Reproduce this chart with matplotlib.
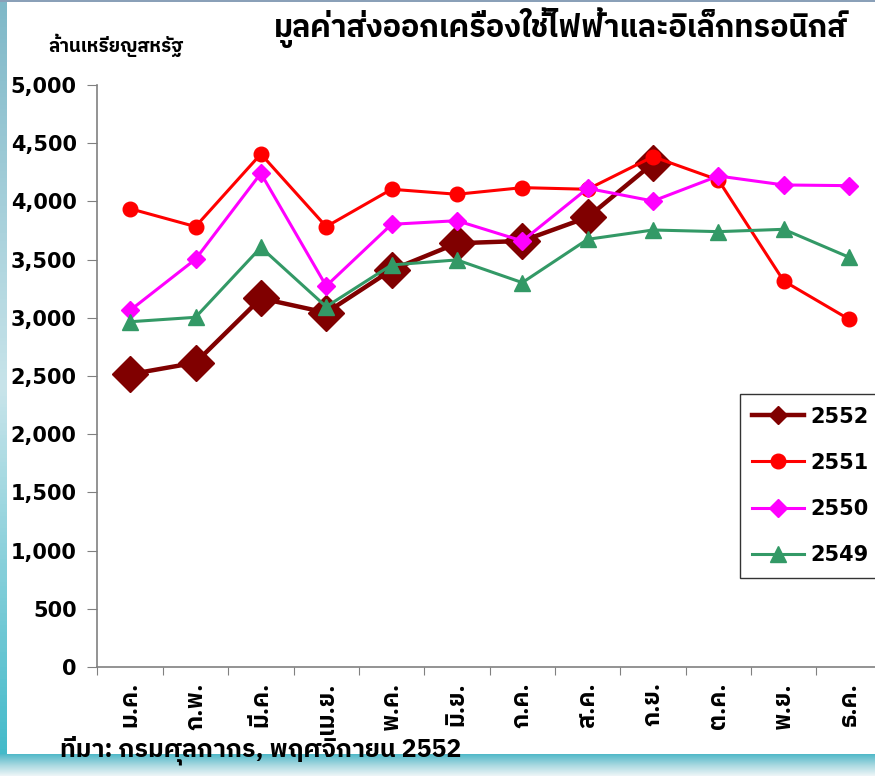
import matplotlib
matplotlib.use("Agg")
import matplotlib.pyplot as plt
from matplotlib import font_manager
from matplotlib.ft2font import FT2Font
from matplotlib.lines import Line2D
import numpy as np

months = ["ม.ค.", "ก.พ.", "มี.ค.", "เม.ย.", "พ.ค.", "มิ.ย.", "ก.ค.", "ส.ค.", "ก.ย.", "ต.ค.", "พ.ย.", "ธ.ค."]
v2552 = [2515, 2614, 3167, 3044, 3411, 3640, 3660, 3863, 4327]
v2551 = [3937, 3783, 4407, 3783, 4104, 4061, 4118, 4104, 4384, 4184, 3316, 2987]
v2550 = [3064, 3503, 4241, 3273, 3803, 3834, 3660, 4112, 4003, 4218, 4141, 4135]
v2549 = [2966, 3004, 3605, 3095, 3454, 3497, 3302, 3674, 3754, 3740, 3760, 3520]
yticks = [0, 500, 1000, 1500, 2000, 2500, 3000, 3500, 4000, 4500, 5000]
labels = ["2552", "2551", "2550", "2549"]

title = "มูลค่าส่งออกเครื่องใช้ไฟฟ้าและอิเล็กทรอนิกส์"
unit = "ล้านเหรียญสหรัฐ"
source = "ที่มา: กรมศุลกากร, พฤศจิกายน 2552"

# find Thai-capable fonts
thai_fams = []
for f in font_manager.fontManager.ttflist:
    try:
        cm = FT2Font(f.fname).get_charmap()
        if 0x0E21 in cm and 0x0E01 in cm:
            thai_fams.append(f.name)
    except Exception:
        pass
names = []
for n in thai_fams:
    if n not in names:
        names.append(n)
pref = [n for n in names if "Sans" in n] + [n for n in names if "Sans" not in n]
fam = pref + ["DejaVu Sans"]
plt.rcParams["font.family"] = fam

fig = plt.figure(figsize=(8.75, 7.76), dpi=100)

# decorative frame
grad = np.linspace(0, 1, 200).reshape(-1, 1)
axl = fig.add_axes([0, 0, 0.008, 1])
axl.imshow(grad, aspect="auto", cmap=matplotlib.colors.LinearSegmentedColormap.from_list("l", ["#7fb8c8", "#c8e4ea", "#3cb8c8"]), extent=[0, 1, 0, 1])
axl.axis("off")
axb = fig.add_axes([0, 0, 1, 0.028])
axb.imshow(grad, aspect="auto", cmap=matplotlib.colors.LinearSegmentedColormap.from_list("b", ["#4fb8c8", "#a8d8e0", "#eef6f8"]), extent=[0, 1, 0, 1])
axb.axis("off")
axt = fig.add_axes([0, 0.997, 1, 0.003])
axt.set_facecolor("#8aa0b8")
axt.set_xticks([]); axt.set_yticks([])
for s in axt.spines.values():
    s.set_visible(False)

ax = fig.add_axes([0.1114, 0.1405, 0.8963, 0.75])
x = np.arange(len(months))
styles = [
    dict(color="#800000", lw=3.2, marker="D", ms=18, lms=9),
    dict(color="#ff0000", lw=2.2, marker="o", ms=10.5, lms=10.5),
    dict(color="#ff00ff", lw=2.2, marker="D", ms=9, lms=9),
    dict(color="#339966", lw=2.2, marker="^", ms=12, lms=12),
]
series = [v2552, v2551, v2550, v2549]
handles = []
for k, (vals, st, lab) in enumerate(zip(series, styles, labels)):
    ax.plot(x[:len(vals)], vals, color=st["color"], lw=st["lw"], marker=st["marker"],
            ms=st["ms"], zorder=3 + k)
    handles.append(Line2D([], [], color=st["color"], lw=st["lw"], marker=st["marker"],
                          ms=st["lms"], label=lab))

ax.set_xlim(-0.5, 11.5)
ax.set_ylim(0, 5000)
ax.set_yticks(yticks)
ax.set_yticklabels([f"{v:,}" for v in yticks], fontsize=15, fontweight="bold", family=["DejaVu Sans"])
ax.set_xticks(np.arange(-0.5, 12, 1))
ax.set_xticklabels([])
ax.tick_params(axis="x", length=6, color="#808080", direction="out")
ax.tick_params(axis="y", length=7, color="#808080", direction="out", pad=8)
for i, m in enumerate(months):
    ax.text(i, -130, m, rotation=90, ha="center", va="top", fontsize=17, fontweight="bold")
for s in ["top", "right"]:
    ax.spines[s].set_visible(False)
for s in ["left", "bottom"]:
    ax.spines[s].set_color("#808080")
    ax.spines[s].set_linewidth(1.2)

leg = ax.legend(handles=handles, loc="upper left", bbox_to_anchor=(0.819, 0.469), frameon=True,
                fancybox=False, edgecolor="#000000",
                prop={"size": 15, "weight": "bold", "family": ["DejaVu Sans"]},
                handlelength=2.5, labelspacing=1.26, borderpad=0.6, handletextpad=0.3,
                borderaxespad=0)
leg.get_frame().set_linewidth(1.0)

fig.text(0.968, 0.965, title, ha="right", va="center", fontsize=22, fontweight="bold")
fig.text(0.055, 0.942, unit, ha="left", va="center", fontsize=13.5, fontweight="bold")
fig.text(0.069, 0.033, source, ha="left", va="center", fontsize=18, fontweight="bold")

fig.savefig("out.png", dpi=100)
